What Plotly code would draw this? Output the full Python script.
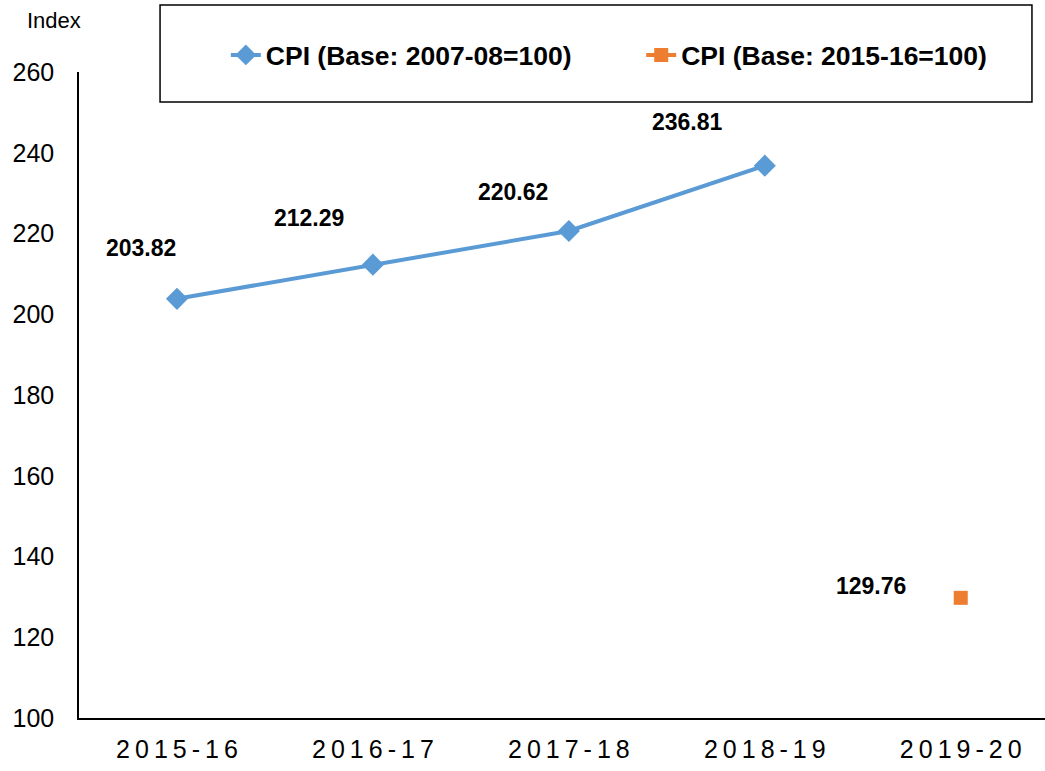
import plotly.graph_objects as go

# data
years = ["2015-16", "2016-17", "2017-18", "2018-19", "2019-20"]
cpi_old_years = ["2015-16", "2016-17", "2017-18", "2018-19"]
cpi_old = [203.82, 212.29, 220.62, 236.81]
cpi_new_years = ["2019-20"]
cpi_new = [129.76]

y_ticks = [100, 120, 140, 160, 180, 200, 220, 240, 260]

BLUE = "#5B9BD5"
ORANGE = "#ED7D31"
FONT = "Arial, Liberation Sans, sans-serif"

# pixel offsets of the value labels from their points
old_label_shift = [(-36, 51), (-64, 47), (-56, 39), (-77, 44)]
new_label_shift = [(-90, 12)]


def spaced(label):
    # the original tick labels are letter-spaced
    return "\u2009".join(label)


fig = go.Figure()
fig.add_trace(go.Scatter(
    x=cpi_old_years, y=cpi_old,
    mode="lines+markers",
    name="CPI (Base: 2007-08=100)",
    line=dict(color=BLUE, width=4),
    marker=dict(symbol="diamond", size=17, color=BLUE),
    legend="legend",
))
fig.add_trace(go.Scatter(
    x=cpi_new_years, y=cpi_new,
    mode="lines+markers",
    name="CPI (Base: 2015-16=100)",
    line=dict(color=ORANGE, width=4),
    marker=dict(symbol="square", size=14, color=ORANGE),
    legend="legend2",
))

for xs, ys, shifts in [(cpi_old_years, cpi_old, old_label_shift),
                       (cpi_new_years, cpi_new, new_label_shift)]:
    for x, y, (dx, dy) in zip(xs, ys, shifts):
        fig.add_annotation(
            x=x, y=y, text=f"<b>{y:.2f}</b>", showarrow=False,
            xshift=dx, yshift=dy,
            font=dict(family=FONT, size=23, color="black"),
        )

# "Index" unit label
fig.add_annotation(
    xref="paper", yref="paper", x=-0.026, y=1.08,
    xanchor="center", yanchor="middle", showarrow=False,
    text="Index", font=dict(family=FONT, size=22, color="black"),
)

# wide legend frame
fig.add_shape(
    type="rect", xref="paper", yref="paper",
    x0=0.0839, x1=0.9865, y0=0.9536, y1=1.1037,
    line=dict(color="black", width=1.5), fillcolor="rgba(0,0,0,0)",
)

legend_style = dict(
    orientation="h", xanchor="left", y=1.026, yanchor="middle",
    font=dict(family=FONT, size=26.5, color="black", weight="bold"),
    bgcolor="rgba(0,0,0,0)",
)

fig.update_layout(
    width=1045, height=771,
    margin=dict(l=79, r=0, t=72, b=53),
    paper_bgcolor="white", plot_bgcolor="white",
    font=dict(family=FONT, color="black"),
    showlegend=True,
    legend=dict(x=0.152, **legend_style),
    legend2=dict(x=0.582, **legend_style),
    xaxis=dict(
        type="category", categoryorder="array", categoryarray=years,
        tickvals=years, ticktext=[spaced(y) for y in years],
        range=[-0.5, 4.43],
        showgrid=False, zeroline=False,
        showline=True, linecolor="black", linewidth=1.5,
        ticks="", tickfont=dict(family=FONT, size=25, color="black"),
        ticklabelstandoff=8,
    ),
    yaxis=dict(
        range=[100, 260], tickvals=y_ticks,
        showgrid=False, zeroline=False,
        showline=True, linecolor="black", linewidth=1.5,
        ticks="", tickfont=dict(family=FONT, size=25, color="black"),
        ticklabelstandoff=18,
    ),
)

fig.write_html("out.html", config={"displayModeBar": False},
               post_script="document.body.style.margin='0';")
